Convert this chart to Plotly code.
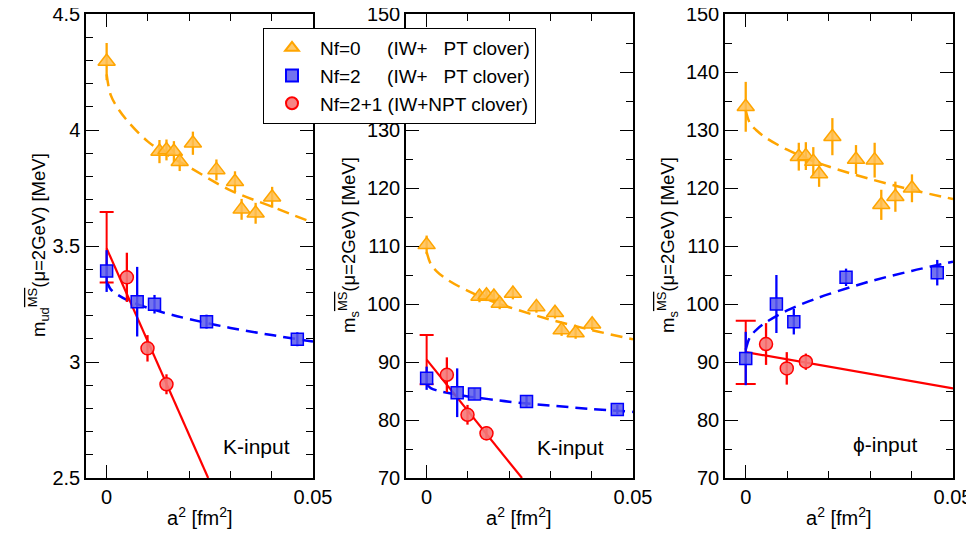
import plotly.graph_objects as go

# ---------------- data ----------------
nf0_a2 = [0, 0.0128, 0.0145, 0.0163, 0.0177, 0.0209, 0.0266, 0.0311, 0.0327, 0.0361, 0.0401]
nf2_a2 = [0, 0.0074, 0.0116, 0.0242, 0.0462]
nf21_a2 = [0.0049, 0.0099, 0.0145]

# panel 1: m_ud, K-input
p1_nf0 = [4.295, 3.907, 3.914, 3.907, 3.863, 3.943, 3.828, 3.777, 3.658, 3.641, 3.710]
p1_nf0_err = [0.08, 0.05, 0.045, 0.045, 0.04, 0.05, 0.045, 0.045, 0.045, 0.045, 0.045]
p1_nf2 = [3.392, 3.260, 3.249, 3.174, 3.098]
p1_nf2_err = [0.09, 0.15, 0.04, 0.03, 0.03]
p1_nf21 = [3.365, 3.059, 2.904]
p1_nf21_err = [0.106, 0.057, 0.043]
p1_cont = 3.495
p1_cont_err = 0.152

# panel 2: m_s, K-input
p2_nf0 = [110.2, 101.3, 101.5, 101.3, 100.1, 101.8, 99.5, 98.5, 95.5, 95.0, 96.5]
p2_nf0_err = [1.6, 1.0, 1.0, 1.0, 1.0, 1.0, 1.0, 1.0, 1.0, 1.0, 1.0]
p2_nf2 = [87.2, 84.7, 84.5, 83.2, 81.8]
p2_nf2_err = [2.0, 4.2, 1.0, 1.0, 0.8]
p2_nf21 = [87.8, 80.9, 77.7]
p2_nf21_err = [3.0, 1.7, 1.2]
p2_cont = 90.4
p2_cont_err = 4.25

# panel 3: m_s, phi-input
p3_nf0 = [134.0, 125.4, 125.5, 124.55, 122.4, 128.85, 124.9, 124.8, 117.1, 118.5, 119.95]
p3_nf0_err = [4.3, 2.4, 2.4, 2.5, 2.2, 3.2, 2.5, 3.0, 2.6, 2.6, 2.4]
p3_nf2 = [90.6, 100.0, 96.95, 104.6, 105.4]
p3_nf2_err = [4.6, 5.0, 2.2, 1.5, 2.2]
p3_nf21 = [93.1, 88.9, 90.05]
p3_nf21_err = [3.6, 2.8, 1.4]
p3_cont = 91.65
p3_cont_err = 5.45

# fit curves
fit_a2 = [0, 0.001, 0.0025, 0.005, 0.01, 0.015, 0.02, 0.03, 0.04, 0.05]
p1_fit_nf0 = [4.24, 4.15, 4.10, 4.04, 3.95, 3.89, 3.84, 3.74, 3.67, 3.60]
p1_fit_nf2 = [3.35, 3.313, 3.292, 3.267, 3.233, 3.207, 3.185, 3.147, 3.116, 3.088]
p2_fit_nf0 = [109.0, 106.9, 105.6, 104.2, 102.25, 100.7, 99.45, 97.3, 95.5, 93.9]
p2_fit_nf2 = [86.2, 85.5, 85.1, 84.7, 84.05, 83.6, 83.15, 82.5, 81.9, 81.4]
p3_fit_nf0 = [133.4, 131.2, 130.0, 128.6, 126.6, 125.0, 123.7, 121.55, 119.7, 118.1]
p3_fit_nf2 = [92.1, 94.25, 95.5, 96.9, 98.9, 100.4, 101.7, 103.9, 105.7, 107.3]
line_a2 = {1: [0, 0.0246], 2: [0, 0.0231], 3: [0, 0.05]}
line_m = {1: [3.49, 2.5], 2: [90.4, 70.0], 3: [91.7, 85.45]}

legend_names = ["Nf=0     (IW+   PT clover)",
                "Nf=2     (IW+   PT clover)",
                "Nf=2+1 (IW+NPT clover)"]

ORANGE = "#FFA500"
BLUE = "#0000FF"
RED = "#FF0000"
FONT = "Liberation Sans, Arial, sans-serif"
FS = 20

fig = go.Figure()

panels = [
    (1, p1_nf0, p1_nf0_err, p1_nf2, p1_nf2_err, p1_nf21, p1_nf21_err, p1_cont, p1_cont_err, p1_fit_nf0, p1_fit_nf2, 7),
    (2, p2_nf0, p2_nf0_err, p2_nf2, p2_nf2_err, p2_nf21, p2_nf21_err, p2_cont, p2_cont_err, p2_fit_nf0, p2_fit_nf2, 7),
    (3, p3_nf0, p3_nf0_err, p3_nf2, p3_nf2_err, p3_nf21, p3_nf21_err, p3_cont, p3_cont_err, p3_fit_nf0, p3_fit_nf2, 10),
]

for (k, nf0, nf0e, nf2, nf2e, nf21, nf21e, cont, conte, fit0, fit2, capw) in panels:
    xa = "x" if k == 1 else f"x{k}"
    ya = "y" if k == 1 else f"y{k}"
    dash = "12px,7px"
    fig.add_trace(go.Scatter(x=fit_a2, y=fit0, mode="lines", line=dict(color=ORANGE, width=2.5, dash=dash, shape="spline"),
                             xaxis=xa, yaxis=ya, showlegend=False, hoverinfo="skip"))
    fig.add_trace(go.Scatter(x=fit_a2, y=fit2, mode="lines", line=dict(color=BLUE, width=2.5, dash=dash, shape="spline"),
                             xaxis=xa, yaxis=ya, showlegend=False, hoverinfo="skip"))
    fig.add_trace(go.Scatter(x=line_a2[k], y=line_m[k], mode="lines", line=dict(color=RED, width=2.2),
                             xaxis=xa, yaxis=ya, showlegend=False, hoverinfo="skip"))
    # continuum point (error bar with caps only)
    fig.add_trace(go.Scatter(x=[0], y=[cont], mode="markers", marker=dict(size=1, color=RED),
                             error_y=dict(type="data", array=[conte], color=RED, thickness=2, width=capw),
                             xaxis=xa, yaxis=ya, showlegend=False))
    fig.add_trace(go.Scatter(x=nf0_a2, y=nf0, mode="markers", name=legend_names[0],
                             marker=dict(symbol="triangle-up", size=15, color="rgba(255,190,80,0.85)",
                                         line=dict(color=ORANGE, width=1.5)),
                             error_y=dict(type="data", array=nf0e, color=ORANGE, thickness=2.3, width=0),
                             xaxis=xa, yaxis=ya, showlegend=(k == 1), legendrank=1))
    fig.add_trace(go.Scatter(x=nf2_a2, y=nf2, mode="markers", name=legend_names[1],
                             marker=dict(symbol="square", size=12, color="rgba(90,90,235,0.85)",
                                         line=dict(color=BLUE, width=1.5)),
                             error_y=dict(type="data", array=nf2e, color=BLUE, thickness=2.3, width=0),
                             xaxis=xa, yaxis=ya, showlegend=(k == 1), legendrank=2))
    fig.add_trace(go.Scatter(x=nf21_a2, y=nf21, mode="markers", name=legend_names[2],
                             marker=dict(symbol="circle", size=13, color="rgba(245,120,120,0.9)",
                                         line=dict(color=RED, width=1.5)),
                             error_y=dict(type="data", array=nf21e, color=RED, thickness=2.3, width=0),
                             xaxis=xa, yaxis=ya, showlegend=(k == 1), legendrank=3))

# page has an 8px body margin: lay out in page pixels, convert to paper fractions
OFF = 8
W, H = 974, 538 - 2 * OFF

def px(X):
    return (X - OFF) / W

def py(Y):
    return 1 - (Y - OFF) / H

xdoms = [(px(86), px(313)), (px(406), px(633)), (px(725), px(953))]
ydom = (py(478), py(14))

def xaxis_cfg(dom):
    return dict(domain=dom, range=[-0.005, 0.05], tickvals=[0, 0.05], ticktext=["0", "0.05"],
                ticks="inside", ticklen=13, tickwidth=1, tickcolor="black", automargin=False,
                ticklabeloverflow="allow",
                minor=dict(tick0=0, dtick=0.01, ticks="inside", ticklen=7, tickcolor="black", tickwidth=1),
                showline=True, linecolor="black", linewidth=1.5, mirror="ticks",
                showgrid=False, zeroline=False, tickfont=dict(family=FONT, size=FS, color="black"))

def yaxis_cfg(rng, dtick, mdt, anchor):
    return dict(domain=ydom, range=rng, dtick=dtick, tick0=rng[0], anchor=anchor, automargin=False,
                ticklabeloverflow="allow",
                ticks="inside", ticklen=13, tickwidth=1, tickcolor="black",
                minor=dict(dtick=mdt, ticks="inside", ticklen=7, tickcolor="black", tickwidth=1),
                showline=True, linecolor="black", linewidth=1.5, mirror="ticks",
                showgrid=False, zeroline=False, tickfont=dict(family=FONT, size=FS, color="black"))

fig.update_layout(
    width=W, height=H, margin=dict(l=0, r=0, t=0, b=0, autoexpand=False),
    paper_bgcolor="white", plot_bgcolor="white",
    font=dict(family=FONT, size=FS, color="black"),
    xaxis=dict(**xaxis_cfg(xdoms[0]), anchor="y"),
    xaxis2=dict(**xaxis_cfg(xdoms[1]), anchor="y2"),
    xaxis3=dict(**xaxis_cfg(xdoms[2]), anchor="y3"),
    yaxis=yaxis_cfg([2.5, 4.5], 0.5, 0.1, "x"),
    yaxis2=yaxis_cfg([70, 150], 10, 5, "x2"),
    yaxis3=yaxis_cfg([70, 150], 10, 5, "x3"),
    legend=dict(x=px(263), y=py(28), xanchor="left", yanchor="top",
                bgcolor="white", bordercolor="black", borderwidth=1,
                font=dict(family=FONT, size=19, color="black"),
                tracegroupgap=0, itemsizing="constant", itemwidth=46),
    showlegend=True,
)

ov = "<span style='text-decoration:overline'>MS</span>"
ytitles = [f"m<sub>ud</sub><sup>{ov}</sup>(μ=2GeV) [MeV]",
           f"m<sub>s</sub><sup>{ov}</sup>(μ=2GeV) [MeV]",
           f"m<sub>s</sub><sup>{ov}</sup>(μ=2GeV) [MeV]"]
ytx = [38, 348, 667]
for i in range(3):
    fig.add_annotation(text=ytitles[i], xref="paper", yref="paper", x=px(ytx[i]), y=py(245),
                       textangle=-90, showarrow=False, xanchor="center", yanchor="middle",
                       font=dict(family=FONT, size=18.5, color="black"))
    cx = (xdoms[i][0] + xdoms[i][1]) / 2
    fig.add_annotation(text="a<sup>2</sup> [fm<sup>2</sup>]", xref="paper", yref="paper", x=cx, y=py(516),
                       showarrow=False, xanchor="center", yanchor="middle",
                       font=dict(family=FONT, size=FS, color="black"))

labels = [("K-input", "x", "y", 0.045, 2.634), ("K-input", "x2", "y2", 0.0435, 75.3), ("ϕ-input", "x3", "y3", 0.0418, 75.7)]
for t, xa, ya, xv, yv in labels:
    fig.add_annotation(text=t, xref=xa, yref=ya, x=xv, y=yv, showarrow=False, xanchor="right", yanchor="middle",
                       font=dict(family=FONT, size=FS + 1, color="black"))

fig.write_html("out.html")
